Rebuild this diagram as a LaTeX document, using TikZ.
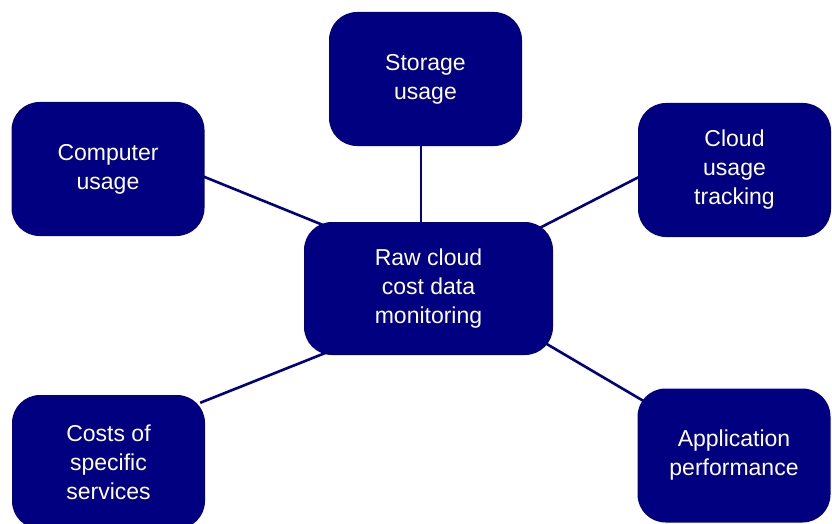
\documentclass[tikz,border=0pt]{standalone}
\usepackage{fontspec}
\setmainfont{Liberation Sans}
\usepackage{tikz}
\usetikzlibrary{backgrounds}
\definecolor{navyblue}{RGB}{0,0,128}

\begin{document}
\begin{tikzpicture}[x=1pt,y=1pt,
	box/.style={fill=navyblue, text=white, rounded corners=28pt, align=center, inner sep=0pt,
		minimum width=193pt, minimum height=134pt, font=\fontsize{23}{29}\selectfont},
	link/.style={draw=navyblue, line width=2.6pt}]
				\useasboundingbox (0,0) rectangle (832,-524);
				
				\node[box, minimum width=249pt, minimum height=133pt] (raw) at (428.5,-288.5) {Raw cloud\\cost data\\monitoring};
				
				\node[box] (stor) at (425.5,-79) {Storage\\usage};
				\node[box] (comp) at (108,-169) {Computer\\usage};
				\node[box] (track) at (734.5,-170) {Cloud\\usage\\tracking};
				\node[box] (costs) at (108.5,-462) {Costs of\\specific\\services};
				\node[box] (app) at (734,-455.5) {Application\\performance};
				
				% spokes go behind the boxes
				\begin{scope}[on background layer]
					\draw[link] ([xshift=-4.5]stor.center) -- ([xshift=-4.5]stor.center |- raw.center);
					\draw[link] ([shift={(-5,-6)}]comp.east) -- ([shift={(31,-8)}]raw.north west);
					\draw[link] ([shift={(5,-5)}]track.west) -- ([shift={(-23,-11)}]raw.north east);
					\draw[link] ([shift={(-5,-8)}]costs.north east) -- ([shift={(31,6)}]raw.south west);
					\draw[link] ([shift={(-18,18)}]raw.south east) -- ([shift={(22,-22)}]app.north west);
				\end{scope}
			\end{tikzpicture}
\end{document}
